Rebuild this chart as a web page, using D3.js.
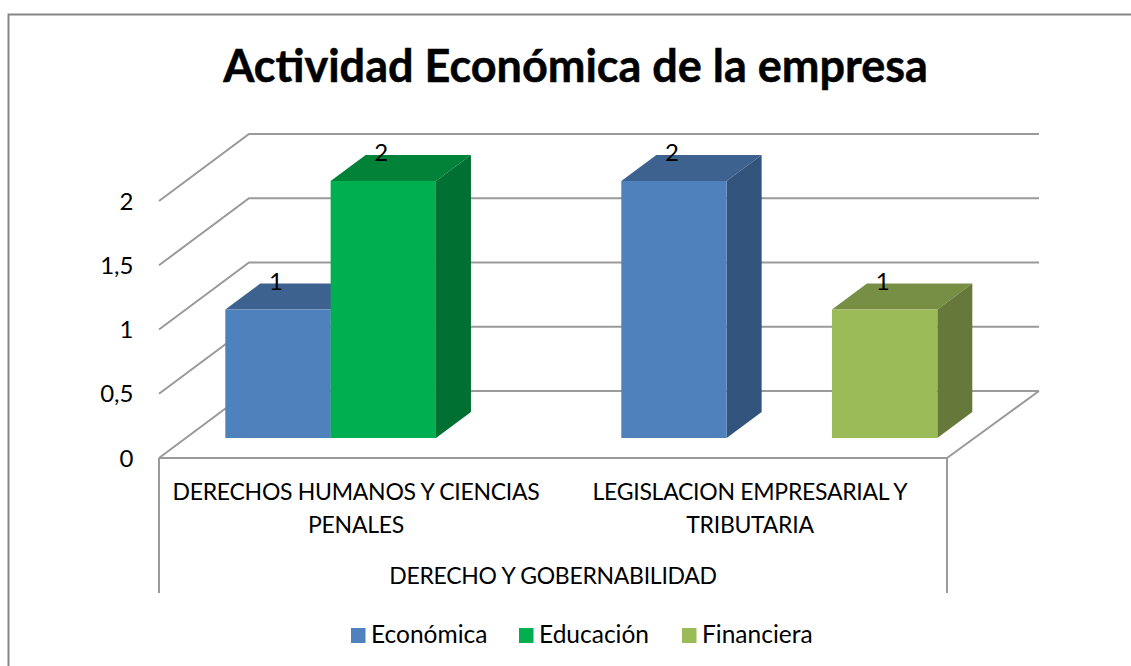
<!DOCTYPE html>
<html><head><meta charset="utf-8">
<script src="https://cdn.jsdelivr.net/npm/d3@7"></script>
<style>html,body{margin:0;padding:0;background:#fff}svg{display:block}text{font-family:Lato,"Open Sans",sans-serif;fill:#000}</style>
</head><body><svg id="c" width="1131" height="666"></svg>
<script>
const title = "Actividad Económica de la empresa";
const groups = ["DERECHOS HUMANOS Y CIENCIAS PENALES", "LEGISLACION EMPRESARIAL Y TRIBUTARIA"];
const groupLines = [["DERECHOS HUMANOS Y CIENCIAS","PENALES"],["LEGISLACION EMPRESARIAL Y","TRIBUTARIA"]];
const parent = "DERECHO Y GOBERNABILIDAD";
const seriesNames = ["Económica","Educación","Financiera"];
const economica = [1,2];
const educacion = [2,null];
const financiera = [null,1];
const ticks = [0,0.5,1,1.5,2];
const front = ["#4F81BD","#00B050","#9BBB59"];
const topC = ["#3E6290","#008239","#778E45"];
const sideC = ["#32547C","#006F32","#66793A"];

const svg = d3.select("#c");
svg.append("path").attr("d","M8.5 666V14.5H1131").attr("fill","none").attr("stroke","#868686").attr("stroke-width",2);
svg.append("text").attr("x",575.5).attr("y",82).attr("text-anchor","middle").attr("font-size",45).attr("font-weight",700)
  .attr("stroke","#000").attr("stroke-width",0.5).style("stroke","#000").text(title);

const y = d3.scaleLinear().domain([0,2]).range([458,201]);
const dx=90, dy=67;      // floor depth
const bx=27, by=20;      // bar front offset from the front plane
const ddx=35, ddy=26;    // bar depth
const xL=159, xR=947;
const g0 = d3.scaleBand().domain(groups).range([159.5,951.5]).paddingInner(0).paddingOuter(0);
const seriesBand = d3.scaleBand().domain(seriesNames).range([38.8,38.8+316]);
const grey="#9a9a9a";

// gridlines and wall
const grid = svg.append("g").attr("fill","none").attr("stroke",grey).attr("stroke-width",2);
ticks.forEach(t=>{
  const yy=y(t);
  grid.append("path").attr("d",`M${xL} ${yy}L${xL+dx} ${yy-dy}H${xR+dx+92-90}`);
});
grid.append("path").attr("d",`M${xR} ${y(0)}L${xR+dx+2} ${y(0)-dy}`);
grid.append("path").attr("d",`M${xL} ${y(0)}H${xR}`);
grid.append("path").attr("d",`M${xL} ${y(0)}V593M${xR} ${y(0)}V593`);

// bars
const series=[economica,educacion,financiera];
const h = v => y(0)-y(v);
const marks=[];
groups.forEach((g,gi)=>series.forEach((s,si)=>{ if(s[gi]!=null) marks.push({g,gi,si,v:s[gi]}); }));
const bars = svg.append("g").selectAll("g").data(marks).join("g");
const bw = seriesBand.bandwidth();
const X = d=>g0(d.g)+seriesBand(seriesNames[d.si])+bx;
const B = ()=>y(0)-by;
bars.append("path").attr("fill",d=>topC[d.si]).attr("d",d=>{const x=X(d),t=B()-h(d.v);return `M${x} ${t}l${ddx} ${-ddy}h${bw}l${-ddx} ${ddy}z`;});
bars.append("path").attr("fill",d=>sideC[d.si]).attr("d",d=>{const x=X(d)+bw,t=B()-h(d.v);return `M${x} ${t}l${ddx} ${-ddy}V${B()-ddy}L${x} ${B()}z`;});
bars.append("rect").attr("fill",d=>front[d.si]).attr("x",X).attr("width",bw).attr("y",d=>B()-h(d.v)).attr("height",d=>h(d.v));
bars.append("text").attr("x",d=>X(d)+bw/2-2).attr("y",d=>B()-h(d.v)-20).attr("text-anchor","middle").attr("font-size",24).text(d=>d.v);

// y axis labels
svg.append("g").selectAll("text").data(ticks).join("text").attr("x",133.5).attr("y",d=>y(d)+8.5).attr("text-anchor","end").attr("font-size",24)
  .text(d=>String(d).replace(".",","));

// category labels
const labelX=[356,750];
groupLines.forEach((ls,i)=>ls.forEach((l,j)=>{
  svg.append("text").attr("x",labelX[i]).attr("y",500+j*33).attr("text-anchor","middle").attr("font-size",23).attr("letter-spacing",-0.28).text(l);
}));
svg.append("text").attr("x",553).attr("y",583.5).attr("text-anchor","middle").attr("font-size",23).attr("letter-spacing",-0.28).text(parent);

// legend
const legX=[351,519,682];
const leg=svg.append("g").selectAll("g").data(seriesNames).join("g").attr("transform",(d,i)=>`translate(${legX[i]},628)`);
leg.append("rect").attr("width",14.5).attr("height",15).attr("fill",(d,i)=>front[i]);
leg.append("text").attr("x",20).attr("y",15).attr("font-size",24.5).text(d=>d);
</script></body></html>
